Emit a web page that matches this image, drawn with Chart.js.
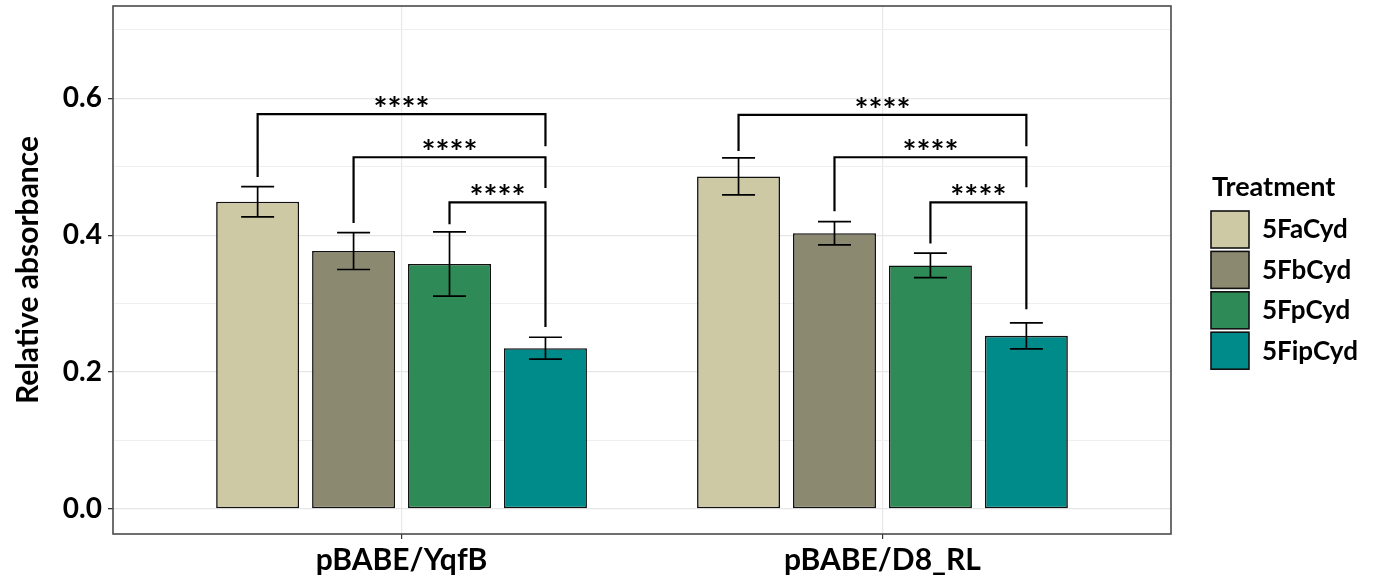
<!DOCTYPE html>
<html>
<head>
<meta charset="utf-8">
<script src="https://cdn.jsdelivr.net/npm/chart.js@4/dist/chart.umd.min.js"></script>
<style>
  html, body { margin: 0; padding: 0; background: #ffffff; }
  #wrap { width: 1374px; height: 580px; }
</style>
</head>
<body>
<div id="wrap"><canvas id="c" width="1374" height="580"></canvas></div>
<script>
// ---- data ----
const categories = ['pBABE/YqfB', 'pBABE/D8_RL'];
const treatments = ['5FaCyd', '5FbCyd', '5FpCyd', '5FipCyd'];
const meanFaCyd  = [0.449, 0.486];
const meanFbCyd  = [0.377, 0.403];
const meanFpCyd  = [0.358, 0.356];
const meanFipCyd = [0.235, 0.253];
const errFaCyd   = [0.022, 0.027];
const errFbCyd   = [0.027, 0.017];
const errFpCyd   = [0.047, 0.018];
const errFipCyd  = [0.016, 0.019];
const yTicks = [0, 0.1, 0.2, 0.3, 0.4, 0.5, 0.6, 0.7];
// significance comparisons: [category, fromSeries, toSeries, bracketY, leftEndY, rightEndY, label]
const sigGroup1 = [[0, 0, 3, 0.577, 0.485, 0.530, '****'],
                   [0, 1, 3, 0.514, 0.418, 0.469, '****'],
                   [0, 2, 3, 0.448, 0.416, 0.266, '****']];
const sigGroup2 = [[1, 0, 3, 0.576, 0.523, 0.530, '****'],
                   [1, 1, 3, 0.514, 0.435, 0.470, '****'],
                   [1, 2, 3, 0.448, 0.388, 0.292, '****']];

const colors = ['#CDC9A5', '#8B8970', '#2E8B57', '#008B8B'];
const means = [meanFaCyd, meanFbCyd, meanFpCyd, meanFipCyd];
const errs = [errFaCyd, errFbCyd, errFpCyd, errFipCyd];
const FONT = 'Lato, "Open Sans", sans-serif';

const datasets = treatments.map((t, s) => ({
  label: t,
  data: categories.map((c, i) => ({ x: i, y: means[s][i] })),
  backgroundColor: colors[s],
  borderColor: '#111111',
  borderWidth: 1.6,
  borderSkipped: false,
  categoryPercentage: 0.798,
  barPercentage: 0.865
}));

const errorBars = {
  id: 'errorBars',
  afterDatasetsDraw(chart) {
    const ctx = chart.ctx, y = chart.scales.y;
    ctx.save();
    ctx.strokeStyle = '#000';
    ctx.lineWidth = 1.7;
    chart.data.datasets.forEach((ds, s) => {
      const meta = chart.getDatasetMeta(s);
      meta.data.forEach((bar, i) => {
        const hi = y.getPixelForValue(means[s][i] + errs[s][i]);
        const lo = y.getPixelForValue(means[s][i] - errs[s][i]);
        const hw = 16.5;
        ctx.beginPath();
        ctx.moveTo(bar.x, hi); ctx.lineTo(bar.x, lo);
        ctx.moveTo(bar.x - hw, hi); ctx.lineTo(bar.x + hw, hi);
        ctx.moveTo(bar.x - hw, lo); ctx.lineTo(bar.x + hw, lo);
        ctx.stroke();
      });
    });
    ctx.restore();
  }
};

const brackets = {
  id: 'brackets',
  afterDatasetsDraw(chart) {
    const ctx = chart.ctx, y = chart.scales.y;
    ctx.save();
    ctx.strokeStyle = '#000';
    ctx.fillStyle = '#000';
    ctx.lineWidth = 2.2;
    ctx.font = 'bold 33px ' + FONT;
    ctx.textAlign = 'center';
    ctx.textBaseline = 'alphabetic';
    sigGroup1.concat(sigGroup2).forEach(([cat, a, b, yl, y1, y2, lab]) => {
      const x1 = chart.getDatasetMeta(a).data[cat].x;
      const x2 = chart.getDatasetMeta(b).data[cat].x;
      const py = y.getPixelForValue(yl);
      ctx.beginPath();
      ctx.moveTo(x1, y.getPixelForValue(y1));
      ctx.lineTo(x1, py);
      ctx.lineTo(x2, py);
      ctx.lineTo(x2, y.getPixelForValue(y2));
      ctx.stroke();
      ctx.fillText(lab, (x1 + x2) / 2, py + 7);
    });
    ctx.restore();
  }
};

const panelBorder = {
  id: 'panelBorder',
  afterDraw(chart) {
    const a = chart.chartArea, ctx = chart.ctx;
    ctx.save();
    ctx.strokeStyle = '#4a4a4a';
    ctx.lineWidth = 1.6;
    ctx.strokeRect(a.left, a.top, a.right - a.left, a.bottom - a.top);
    ctx.restore();
  }
};

const customLegend = {
  id: 'customLegend',
  afterDraw(chart) {
    const ctx = chart.ctx;
    ctx.save();
    ctx.fillStyle = '#000';
    ctx.textAlign = 'left';
    ctx.textBaseline = 'alphabetic';
    ctx.font = 'bold 27px ' + FONT;
    ctx.fillText('Treatment', 1212, 196);
    ctx.font = 'bold 26px ' + FONT;
    chart.data.datasets.forEach((ds, s) => {
      const top = 211 + s * 40.4;
      ctx.fillStyle = ds.backgroundColor;
      ctx.fillRect(1211, top, 38, 37);
      ctx.strokeStyle = '#111';
      ctx.lineWidth = 1.6;
      ctx.strokeRect(1211, top, 38, 37);
      ctx.fillStyle = '#000';
      ctx.textBaseline = 'middle';
      ctx.fillText(ds.label, 1262, top + 19);
    });
    ctx.restore();
  }
};

new Chart(document.getElementById('c'), {
  type: 'bar',
  data: { datasets },
  options: {
    responsive: false,
    devicePixelRatio: 1,
    animation: false,
    layout: { padding: { top: 6, right: 203, left: 0, bottom: 0 } },
    plugins: { legend: { display: false }, tooltip: { enabled: false } },
    scales: {
      x: {
        type: 'linear',
        min: -0.6, max: 1.6,
        offset: false,
        grid: { offset: false, color: '#e8e8e8', lineWidth: 1.2, tickColor: '#333', tickLength: 5, drawTicks: true },
        border: { display: false },
        afterBuildTicks(scale) { scale.ticks = categories.map((c, i) => ({ value: i })); },
        afterFit(scale) { scale.height = 46; scale.paddingLeft = 0; scale.paddingRight = 0; },
        ticks: {
          autoSkip: false, maxRotation: 0, padding: 6, color: '#000',
          font: { family: FONT, size: 30, weight: 'bold', lineHeight: 1 },
          callback: (v, i) => categories[i]
        }
      },
      y: {
        type: 'linear',
        min: -0.0365, max: 0.735,
        grid: {
          color: (c) => (Math.round(c.tick.value * 10) % 2 === 0 ? '#e6e6e6' : '#efefef'),
          lineWidth: (c) => (Math.round(c.tick.value * 10) % 2 === 0 ? 1.3 : 1),
          tickColor: (c) => (Math.round(c.tick.value * 10) % 2 === 0 ? '#333' : 'rgba(0,0,0,0)'),
          tickLength: 5, drawTicks: true
        },
        border: { display: false },
        afterBuildTicks(scale) { scale.ticks = yTicks.map(v => ({ value: v })); },
        afterFit(scale) { scale.width = 113; scale.paddingTop = 0; scale.paddingBottom = 0; },
        title: {
          display: true, text: 'Relative absorbance', color: '#000',
          font: { family: FONT, size: 30, weight: 'bold', lineHeight: 1 },
          padding: { top: 13, bottom: 0 }
        },
        ticks: {
          autoSkip: false, padding: 6, color: '#000',
          font: { family: FONT, size: 28, weight: 'bold' },
          callback: (v) => (Math.round(v * 10) % 2 === 0 ? v.toFixed(1) : '')
        }
      }
    }
  },
  plugins: [errorBars, brackets, panelBorder, customLegend]
});
</script>
</body>
</html>
